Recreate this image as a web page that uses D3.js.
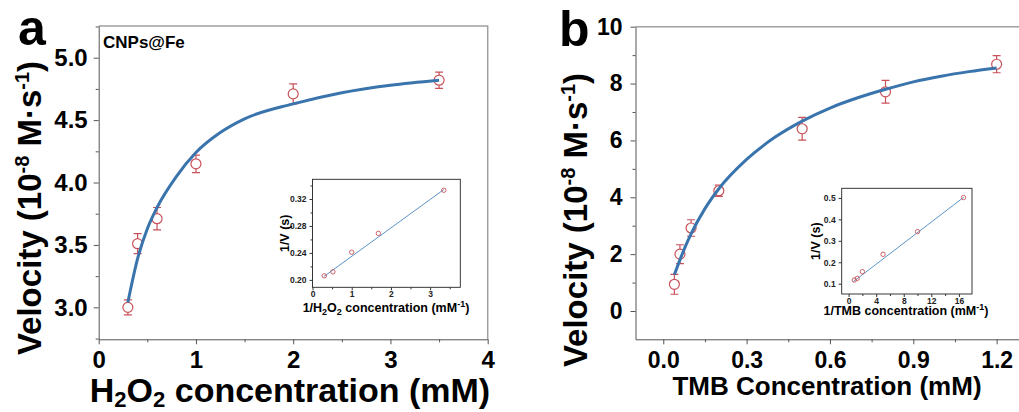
<!DOCTYPE html>
<html>
<head>
<meta charset="utf-8">
<script src="https://cdn.jsdelivr.net/npm/d3@7"></script>
<style>
  body { margin: 0; background: #fff; }
  svg { display: block; font-family: "Liberation Sans", Arial, sans-serif; font-weight: bold; }
</style>
</head>
<body>
<div id="chart"></div>
<script>
// ---- panel a : H2O2 ----
const h2o2Conc     = [0.3, 0.4, 0.6, 1.0, 2.0, 3.5];
const h2o2Velocity = [3.00, 3.51, 3.71, 4.15, 4.71, 4.82];
const h2o2Error    = [0.06, 0.08, 0.09, 0.07, 0.08, 0.065];
// fitted curve
const h2o2FitX = [0.3, 0.4, 0.5, 0.6, 0.8, 1.0, 1.25, 1.5, 2.0, 2.5, 3.0, 3.5];
const h2o2FitY = [3.04, 3.39, 3.63, 3.80, 4.05, 4.24, 4.40, 4.51, 4.63, 4.72, 4.78, 4.82];
// double reciprocal inset
const h2o2InvX = [0.30, 0.52, 1.0, 1.68, 3.35];
const h2o2InvY = [0.206, 0.212, 0.241, 0.269, 0.333];
const h2o2LineX = [0.29, 3.35];
const h2o2LineY = [0.205, 0.334];

// ---- panel b : TMB ----
const tmbConc     = [0.04, 0.06, 0.1, 0.2, 0.5, 0.8, 1.2];
const tmbVelocity = [0.94, 2.00, 2.92, 4.23, 6.41, 7.71, 8.68];
const tmbError    = [0.35, 0.33, 0.29, 0.20, 0.40, 0.40, 0.30];
const tmbFitX = [0.04, 0.06, 0.08, 0.1, 0.15, 0.2, 0.3, 0.4, 0.5, 0.6, 0.7, 0.8, 0.9, 1.0, 1.1, 1.2];
const tmbFitY = [1.28, 1.80, 2.28, 2.71, 3.60, 4.30, 5.33, 6.10, 6.68, 7.14, 7.50, 7.80, 8.06, 8.26, 8.42, 8.55];
const tmbInvX = [0.83, 1.25, 2.0, 5.0, 10.0, 16.67];
const tmbInvY = [0.117, 0.125, 0.156, 0.237, 0.343, 0.502];
const tmbLineX = [0.7, 16.7];
const tmbLineY = [0.110, 0.503];

// tick labels
const aXTicks = [0, 1, 2, 3, 4];
const aYTicks = [3.0, 3.5, 4.0, 4.5, 5.0];
const bXTicks = [0.0, 0.3, 0.6, 0.9, 1.2];
const bYTicks = [0, 2, 4, 6, 8, 10];

const RED = "#c9525a";
const BLUE = "#3a74ad";

const svg = d3.select("#chart").append("svg")
    .attr("width", 1019)
    .attr("height", 412);

function styleAxis(sel, size, colour) {
    sel.attr("font-size", size).attr("font-family", null).attr("font-weight", "bold");
    sel.selectAll("line, path").attr("stroke", colour);
    sel.selectAll("text").attr("fill", "#000");
}

function drawPanel(p) {
    const x = d3.scaleLinear().domain(p.xDomain).range([p.left, p.right]);
    const y = d3.scaleLinear().domain(p.yDomain).range([p.bottom, p.top]);
    const g = svg.append("g");

    // top / right frame
    g.append("path")
        .attr("d", `M${p.left},${p.top}H${p.right}V${p.bottom}`)
        .attr("fill", "none")
        .attr("stroke", "#a0a0a0")
        .attr("stroke-width", 1.5);

    // minor ticks
    g.append("g").attr("transform", `translate(0,${p.bottom})`)
        .call(d3.axisBottom(x).tickValues(p.xMinor).tickSize(3).tickFormat(""))
        .call(s => { s.select(".domain").remove(); styleAxis(s, 10, "#555"); });
    g.append("g").attr("transform", `translate(${p.left},0)`)
        .call(d3.axisLeft(y).tickValues(p.yMinor).tickSize(3).tickFormat(""))
        .call(s => { s.select(".domain").remove(); styleAxis(s, 10, "#555"); });

    // major axes
    g.append("g").attr("transform", `translate(0,${p.bottom})`)
        .call(d3.axisBottom(x).tickValues(p.xTicks).tickSize(5).tickSizeOuter(0)
            .tickPadding(p.xPad).tickFormat(p.xFormat))
        .call(s => styleAxis(s, p.tickFont, "#555"));
    g.append("g").attr("transform", `translate(${p.left},0)`)
        .call(d3.axisLeft(y).tickValues(p.yTicks).tickSize(5).tickSizeOuter(0)
            .tickPadding(p.yPad).tickFormat(p.yFormat))
        .call(s => styleAxis(s, p.tickFont, "#555"));

    // error bars
    const pts = p.conc.map((c, i) => ({ c: c, v: p.vel[i], e: p.err[i] }));
    g.append("g").selectAll("path").data(pts).join("path")
        .attr("d", d => {
            const cx = x(d.c), y1 = y(d.v + d.e), y2 = y(d.v - d.e);
            return `M${cx - 4},${y1}H${cx + 4}M${cx},${y1}V${y2}M${cx - 4},${y2}H${cx + 4}`;
        })
        .attr("fill", "none")
        .attr("stroke", RED)
        .attr("stroke-width", 1.2);

    g.append("g").selectAll("circle").data(pts).join("circle")
        .attr("cx", d => x(d.c))
        .attr("cy", d => y(d.v))
        .attr("r", 5)
        .attr("fill", "#fff")
        .attr("stroke", RED)
        .attr("stroke-width", 1.2);

    // fitted curve
    const fit = p.fitX.map((c, i) => [c, p.fitY[i]]);
    g.append("path")
        .datum(fit)
        .attr("d", d3.line().x(d => x(d[0])).y(d => y(d[1])).curve(d3.curveMonotoneX))
        .attr("fill", "none")
        .attr("stroke", BLUE)
        .attr("stroke-width", 3);

    drawInset(g, p.inset);
}

function drawInset(g, q) {
    const x = d3.scaleLinear().domain(q.xDomain).range([q.left, q.right]);
    const y = d3.scaleLinear().domain(q.yDomain).range([q.bottom, q.top]);

    g.append("rect")
        .attr("x", q.left).attr("y", q.top)
        .attr("width", q.right - q.left).attr("height", q.bottom - q.top)
        .attr("fill", "#fff")
        .attr("stroke", "#222")
        .attr("stroke-width", 0.9);

    g.append("g").attr("transform", `translate(0,${q.bottom})`)
        .call(d3.axisBottom(x).tickValues(q.xMinor).tickSize(2).tickFormat(""))
        .call(s => { s.select(".domain").remove(); styleAxis(s, 8, "#333"); });
    g.append("g").attr("transform", `translate(${q.left},0)`)
        .call(d3.axisLeft(y).tickValues(q.yMinor).tickSize(2).tickFormat(""))
        .call(s => { s.select(".domain").remove(); styleAxis(s, 8, "#333"); });
    g.append("g").attr("transform", `translate(0,${q.bottom})`)
        .call(d3.axisBottom(x).tickValues(q.xTicks).tickSize(3).tickSizeOuter(0).tickPadding(1).tickFormat(q.xFormat))
        .call(s => { s.select(".domain").remove(); styleAxis(s, 8.5, "#333"); s.selectAll("text").attr("fill", "#222"); });
    g.append("g").attr("transform", `translate(${q.left},0)`)
        .call(d3.axisLeft(y).tickValues(q.yTicks).tickSize(3).tickSizeOuter(0).tickPadding(3).tickFormat(q.yFormat))
        .call(s => { s.select(".domain").remove(); styleAxis(s, 8.5, "#333"); s.selectAll("text").attr("fill", "#222"); });

    g.append("line")
        .attr("x1", x(q.lineX[0])).attr("y1", y(q.lineY[0]))
        .attr("x2", x(q.lineX[1])).attr("y2", y(q.lineY[1]))
        .attr("stroke", "#5b93c4")
        .attr("stroke-width", 1);

    g.append("g").selectAll("circle").data(q.invX).join("circle")
        .attr("cx", d => x(d))
        .attr("cy", (d, i) => y(q.invY[i]))
        .attr("r", 2.2)
        .attr("fill", "none")
        .attr("stroke", RED)
        .attr("stroke-width", 0.9);

    // y title
    g.append("text")
        .attr("transform", `translate(${q.yTitleX},${(q.top + q.bottom) / 2}) rotate(-90)`)
        .attr("text-anchor", "middle")
        .attr("font-size", 12.5)
        .text("1/V (s)");

    // x title
    const t = g.append("text")
        .attr("x", q.xTitleX)
        .attr("y", q.xTitleY)
        .attr("text-anchor", "middle")
        .attr("font-size", 12.5);
    q.xTitle(t);
}

// panel a
drawPanel({
    left: 98.7, right: 487.7, top: 26, bottom: 339.3,
    xDomain: [0, 4], yDomain: [2.744, 5.254],
    xTicks: aXTicks, yTicks: aYTicks,
    xMinor: [0.5, 1.5, 2.5, 3.5], yMinor: [2.75, 3.25, 3.75, 4.25, 4.75, 5.25],
    xFormat: d3.format("d"), yFormat: d3.format(".1f"),
    tickFont: 24, xPad: 7, yPad: 6,
    conc: h2o2Conc, vel: h2o2Velocity, err: h2o2Error,
    fitX: h2o2FitX, fitY: h2o2FitY,
    inset: {
        left: 312.5, right: 460.3, top: 179.3, bottom: 287.3,
        xDomain: [0, 3.77], yDomain: [0.189, 0.3492],
        xTicks: [0, 1, 2, 3], xMinor: [0.5, 1.5, 2.5, 3.5],
        yTicks: [0.20, 0.24, 0.28, 0.32], yMinor: [0.22, 0.26, 0.30, 0.34],
        xFormat: d3.format("d"), yFormat: d3.format(".2f"),
        invX: h2o2InvX, invY: h2o2InvY, lineX: h2o2LineX, lineY: h2o2LineY,
        yTitleX: 289, xTitleX: 386, xTitleY: 312,
        xTitle: t => {
            t.append("tspan").text("1/H");
            t.append("tspan").attr("font-size", 9).attr("dy", 3).text("2");
            t.append("tspan").attr("dy", -3).text("O");
            t.append("tspan").attr("font-size", 9).attr("dy", 3).text("2");
            t.append("tspan").attr("dy", -3).text(" concentration (mM");
            t.append("tspan").attr("font-size", 9).attr("dy", -5).text("-1");
            t.append("tspan").attr("dy", 5).text(")");
        }
    }
});

// panel b
drawPanel({
    left: 635.5, right: 1024.4, top: 26.7, bottom: 339.3,
    xDomain: [-0.1, 1.3], yDomain: [-0.995, 10],
    xTicks: bXTicks, yTicks: bYTicks,
    xMinor: [0.15, 0.45, 0.75, 1.05], yMinor: [1, 3, 5, 7, 9],
    xFormat: d3.format(".1f"), yFormat: d3.format("d"),
    tickFont: 23, xPad: 7, yPad: 8,
    conc: tmbConc, vel: tmbVelocity, err: tmbError,
    fitX: tmbFitX, fitY: tmbFitY,
    inset: {
        left: 841.7, right: 972, top: 188.3, bottom: 294,
        xDomain: [-1, 17.9], yDomain: [0.052, 0.545],
        xTicks: [0, 4, 8, 12, 16], xMinor: [2, 6, 10, 14],
        yTicks: [0.1, 0.2, 0.3, 0.4, 0.5], yMinor: [],
        xFormat: d3.format("d"), yFormat: d3.format(".1f"),
        invX: tmbInvX, invY: tmbInvY, lineX: tmbLineX, lineY: tmbLineY,
        yTitleX: 820, xTitleX: 906, xTitleY: 315,
        xTitle: t => {
            t.append("tspan").text("1/TMB concentration (mM");
            t.append("tspan").attr("font-size", 9).attr("dy", -5).text("-1");
            t.append("tspan").attr("dy", 5).text(")");
        }
    }
});

// ---- titles and labels ----
function velocityTitle(cx, cy) {
    const t = svg.append("text")
        .attr("transform", `translate(${cx},${cy}) rotate(-90)`)
        .attr("text-anchor", "middle")
        .attr("font-size", 33);
    t.append("tspan").text("Velocity (10");
    t.append("tspan").attr("font-size", 20).attr("dy", -12).text("-8");
    t.append("tspan").attr("dy", 12).text(" M\u00b7s");
    t.append("tspan").attr("font-size", 20).attr("dy", -12).text("-1");
    t.append("tspan").attr("dy", 12).text(")");
}
velocityTitle(41, 208);
velocityTitle(587, 220);

const xa = svg.append("text")
    .attr("x", 290).attr("y", 402)
    .attr("text-anchor", "middle")
    .attr("font-size", 34);
xa.append("tspan").text("H");
xa.append("tspan").attr("font-size", 22).attr("dy", 5).text("2");
xa.append("tspan").attr("dy", -5).text("O");
xa.append("tspan").attr("font-size", 22).attr("dy", 5).text("2");
xa.append("tspan").attr("dy", -5).text(" concentration (mM)");

svg.append("text")
    .attr("x", 827).attr("y", 395)
    .attr("text-anchor", "middle")
    .attr("font-size", 26)
    .text("TMB Concentration (mM)");

svg.append("text").attr("x", 18).attr("y", 45).attr("font-size", 50).text("a");
svg.append("text").attr("x", 559).attr("y", 46).attr("font-size", 50).text("b");
svg.append("text").attr("x", 103).attr("y", 48).attr("font-size", 17).text("CNPs@Fe");
</script>
</body>
</html>
